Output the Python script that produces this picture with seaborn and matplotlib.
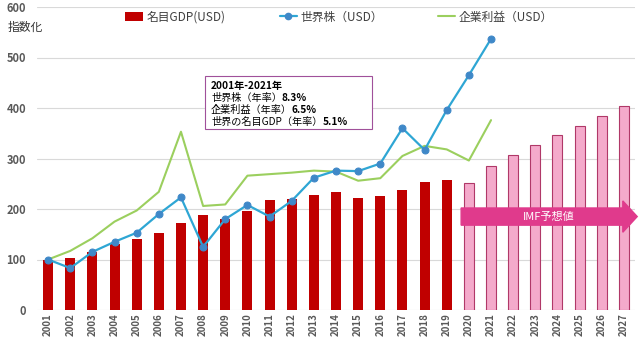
import numpy as np
import pandas as pd
import seaborn as sns
import matplotlib
matplotlib.use("Agg")
import matplotlib.pyplot as plt
from matplotlib.patches import Rectangle, FancyArrow, Patch
from matplotlib.lines import Line2D

# ---- data (index, 2001 = 100) ----
years = [str(y) for y in range(2001, 2028)]
gdp = [100, 102, 115, 130, 140, 153, 172, 189, 180, 197, 218, 220, 228,
       234, 222, 226, 238, 254, 257, 251, 285, 307, 327, 347, 364, 384, 404]
stocks = [100, 83, 115, 135, 153, 190, 223, 125, 180, 208, 185, 216, 262,
          276, 275, 290, 360, 317, 396, 465, 537]
profits = [100, 117, 142, 175, 197, 234, 353, 206, 209, 266, 269, 272, 276,
           274, 256, 261, 305, 325, 318, 296, 376]
n_actual = 19  # 2001-2019 actual, 2020 onward IMF forecast

sns.set_theme(style="white")
plt.rcParams['font.family'] = ['Noto Sans CJK JP', 'DejaVu Sans']

RED = "#C00000"
PINK = "#F4AACB"
PINK_EDGE = "#B03868"
BLUE = "#2EA6D4"
BLUE_MK = "#3F88C8"
GREEN = "#9BCF5E"
GRAY = "#595959"

fig = plt.figure(figsize=(6.4, 3.42), dpi=100)
ax = fig.add_axes([37 / 640, 1 - 310 / 342, 598 / 640, 303 / 342])

df = pd.DataFrame({"year": years, "gdp": gdp})
palette = {y: (RED if i < n_actual else PINK) for i, y in enumerate(years)}
sns.barplot(data=df, x="year", y="gdp", hue="year", palette=palette,
            order=years, width=0.45, legend=False, ax=ax, saturation=1)
for i, bar in enumerate(ax.patches):
    if i >= n_actual:
        bar.set_edgecolor(PINK_EDGE)
        bar.set_linewidth(0.8)
    else:
        bar.set_linewidth(0)

pos = np.arange(len(stocks))
sns.lineplot(x=pos, y=profits, color=GREEN, lw=1.5, ax=ax)
sns.lineplot(x=pos, y=stocks, color=BLUE, lw=1.6, marker="o",
             markersize=5, markerfacecolor=BLUE_MK, markeredgecolor=BLUE_MK, ax=ax)

ax.set_xlim(-0.5, len(years) - 0.5)
ax.set_ylim(0, 600)
ax.set_yticks(range(0, 601, 100))
ax.yaxis.grid(True, color="#D9D9D9", lw=0.8)
ax.set_axisbelow(True)
for s in ax.spines.values():
    s.set_visible(False)
ax.set_xlabel("")
ax.set_ylabel("")
ax.tick_params(axis="x", labelrotation=90, labelsize=7, colors=GRAY, pad=2, length=0)
ax.tick_params(axis="y", labelsize=8, colors=GRAY, pad=8, length=0)
for t in ax.get_xticklabels() + ax.get_yticklabels():
    t.set_fontweight("bold")

# forecast arrow
ax.add_patch(FancyArrow(18.65, 185, 7.95, 0, width=34, head_width=62,
                        head_length=0.65, length_includes_head=True,
                        color="#E03A8C", clip_on=False, zorder=5))
ax.text(22.6, 184, "IMF予想値", color="white", fontsize=8, ha="center",
        va="center", zorder=6)

fig.text(8 / 640, 1 - 27 / 342, "指数化", fontsize=8.5, color="#333333",
         va="center", ha="left")

# legend
handles = [Patch(facecolor=RED, edgecolor="none"),
           Line2D([], [], color=BLUE, lw=1.6, marker="o", markersize=4.5,
                  markerfacecolor=BLUE_MK, markeredgecolor=BLUE_MK),
           Line2D([], [], color=GREEN, lw=1.5)]
labels = ["名目GDP(USD)", "世界株（USD）", "企業利益（USD）"]
fig.legend(handles, labels, loc="center", bbox_to_anchor=(339 / 640, 1 - 17 / 342),
           ncol=3, frameon=False, fontsize=8.5, columnspacing=4.6,
           handlelength=1.5, handletextpad=0.3, labelcolor="#404040")

# summary box
fig.patches.append(Rectangle((205 / 640, 1 - 129 / 342), 167 / 640, 53 / 342,
                             transform=fig.transFigure, facecolor="white",
                             edgecolor="#A0509A", lw=0.8, zorder=10))
fig.canvas.draw()
renderer = fig.canvas.get_renderer()


def mixed_line(x_px, y_px, parts):
    x = x_px
    for txt, bold in parts:
        t = fig.text(x / 640, 1 - y_px / 342, txt, fontsize=7.3, color="black",
                     fontweight="bold" if bold else "normal", va="center",
                     ha="left", zorder=11)
        bb = t.get_window_extent(renderer)
        x += bb.width


mixed_line(211, 86, [("2001年-2021年", True)])
mixed_line(211, 98, [("世界株（年率）", False), ("8.3%", True)])
mixed_line(211, 110, [("企業利益（年率）", False), ("6.5%", True)])
mixed_line(211, 122, [("世界の名目GDP（年率）", False), ("5.1%", True)])

fig.savefig("out.png", dpi=100)
